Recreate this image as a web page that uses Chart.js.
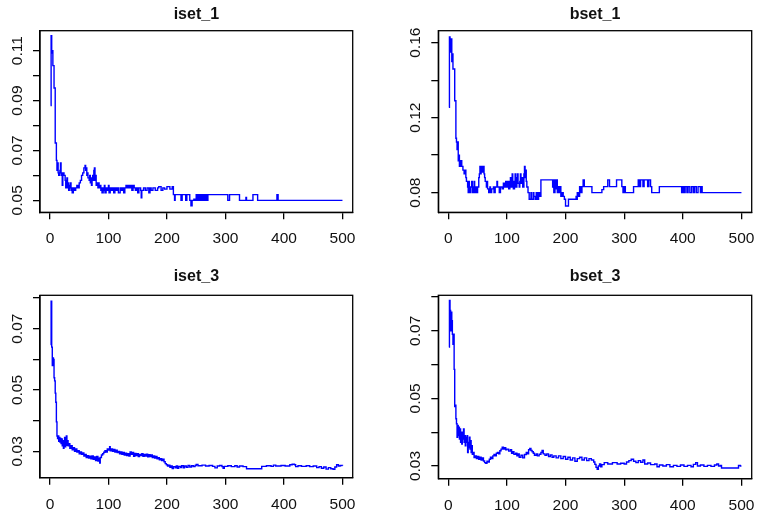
<!DOCTYPE html>
<html>
<head>
<meta charset="utf-8">
<script src="https://cdn.jsdelivr.net/npm/chart.js@4.4.1/dist/chart.umd.min.js"></script>
<style>
  html, body { margin: 0; padding: 0; background: #fff; }
  #wrap { position: relative; width: 768px; height: 525px; overflow: hidden; }
  canvas { position: absolute; }
</style>
</head>
<body>
<div id="wrap">
  <canvas id="p1" width="384" height="262" style="left:0;top:0"></canvas>
  <canvas id="p2" width="384" height="262" style="left:384px;top:0"></canvas>
  <canvas id="p3" width="384" height="263" style="left:0;top:262px"></canvas>
  <canvas id="p4" width="384" height="263" style="left:384px;top:262px"></canvas>
</div>
<script>
// =======================
// Data ([iteration, value])
// =======================
const iset1 = [[1,0.088],[2,0.116],[3,0.109],[4,0.110],[5,0.104],[7,0.095],[9,0.073],[11,0.066],[12,0.062],[13,0.065],
  [14,0.061],[15,0.060],[17,0.062],[18,0.065],[19,0.061],[20,0.060],[21,0.056],[22,0.061],[24,0.060],[26,0.058],
  [27,0.055],[28,0.057],[29,0.059],[30,0.055],[31,0.057],[32,0.054],[33,0.056],[34,0.055],[35,0.057],[36,0.054],
  [37,0.055],[38,0.053],[40,0.055],[42,0.054],[44,0.055],[46,0.056],[48,0.055],[50,0.057],[52,0.058],[54,0.060],
  [56,0.061],[58,0.063],[60,0.064],[61,0.062],[62,0.063],[63,0.060],[64,0.061],[65,0.059],[67,0.058],[68,0.060],
  [69,0.057],[70,0.059],[71,0.056],[72,0.058],[73,0.060],[74,0.058],[75,0.062],[76,0.063],[77,0.058],[78,0.060],
  [79,0.056],[80,0.057],[82,0.055],[83,0.057],[84,0.055],[86,0.056],[87,0.054],[88,0.055],[89,0.053],[91,0.055],
  [92,0.054],[93,0.056],[94,0.053],[96,0.055],[98,0.054],[100,0.056],[101,0.053],[103,0.055],[105,0.054],[107,0.055],
  [109,0.053],[111,0.055],[113,0.054],[115,0.055],[117,0.053],[120,0.055],[122,0.054],[124,0.055],[126,0.053],[128,0.055],
  [130,0.056],[132,0.055],[134,0.056],[136,0.055],[138,0.056],[140,0.054],[142,0.056],[144,0.055],[146,0.054],[148,0.055],
  [150,0.053],[152,0.055],[155,0.054],[156,0.051],[157,0.054],[160,0.055],[163,0.054],[166,0.055],[169,0.053],[171,0.055],
  [173,0.054],[176,0.055],[180,0.054],[184,0.055],[186,0.0555],[190,0.054],[193,0.055],[196,0.0545],[200,0.0555],[205,0.0545],
  [209,0.0555],[211,0.0523],[213,0.050],[214,0.0523],[224,0.050],[226,0.0523],[232,0.050],[234,0.0523],[239,0.050],[241,0.0478],
  [243,0.050],[246,0.0505],[248,0.050],[250,0.0523],[252,0.050],[254,0.0523],[256,0.050],[258,0.0523],[260,0.050],[262,0.0523],
  [264,0.050],[266,0.0523],[268,0.050],[270,0.0523],[304,0.050],[307,0.0523],[324,0.050],[335,0.0512],[336,0.050],[347,0.0523],
  [355,0.050],[388,0.0523],[390,0.050],[500,0.050]];

const bset1 = [[1,0.1255],[2,0.163],[3,0.161],[4,0.155],[5,0.162],[6,0.150],[7,0.154],[8,0.146],[10,0.146],[11,0.129],
  [13,0.109],[14,0.107],[15,0.103],[16,0.107],[17,0.097],[18,0.100],[19,0.094],[21,0.097],[23,0.094],[25,0.092],
  [27,0.090],[28,0.092],[30,0.088],[31,0.086],[33,0.083],[34,0.080],[35,0.086],[36,0.083],[37,0.080],[38,0.083],
  [40,0.086],[41,0.080],[43,0.083],[44,0.086],[45,0.080],[47,0.083],[48,0.080],[50,0.083],[52,0.088],[53,0.090],
  [54,0.094],[55,0.090],[56,0.094],[58,0.091],[59,0.094],[61,0.090],[62,0.088],[63,0.086],[65,0.083],[66,0.086],
  [67,0.082],[69,0.080],[71,0.083],[72,0.080],[74,0.082],[77,0.083],[78,0.080],[80,0.083],[83,0.086],[84,0.083],
  [87,0.080],[89,0.083],[92,0.082],[94,0.085],[96,0.083],[98,0.086],[100,0.083],[102,0.086],[103,0.082],[105,0.086],
  [106,0.088],[107,0.083],[109,0.090],[110,0.086],[111,0.082],[113,0.086],[114,0.090],[115,0.083],[117,0.088],[118,0.090],
  [119,0.085],[121,0.083],[122,0.086],[123,0.090],[124,0.085],[126,0.088],[127,0.083],[129,0.090],[130,0.094],[131,0.088],
  [132,0.092],[133,0.086],[134,0.083],[136,0.080],[138,0.0765],[141,0.080],[142,0.0765],[145,0.080],[146,0.078],[148,0.0765],
  [150,0.080],[152,0.0765],[154,0.080],[156,0.078],[158,0.0868],[178,0.083],[179,0.0868],[180,0.080],[182,0.0868],[183,0.082],
  [184,0.0868],[186,0.080],[187,0.0832],[189,0.080],[190,0.0832],[192,0.078],[194,0.080],[196,0.078],[198,0.0765],[200,0.0729],
  [205,0.0765],[218,0.078],[219,0.0765],[220,0.080],[222,0.078],[224,0.0832],[226,0.080],[228,0.0832],[230,0.0868],[232,0.0832],
  [245,0.080],[262,0.0816],[265,0.0832],[272,0.0868],[275,0.0832],[287,0.0868],[296,0.0832],[298,0.080],[300,0.0832],[302,0.080],
  [316,0.0832],[324,0.0868],[326,0.0832],[328,0.0868],[332,0.0832],[334,0.0868],[340,0.0832],[342,0.0868],[345,0.0832],[347,0.080],
  [360,0.0832],[398,0.080],[400,0.0832],[402,0.080],[404,0.0832],[407,0.080],[409,0.0832],[412,0.080],[415,0.0832],[418,0.080],
  [420,0.0832],[423,0.080],[426,0.0832],[430,0.080],[432,0.0832],[433,0.080],[500,0.080]];

const iset3 = [[1,0.0648],[2,0.079],[3,0.064],[4,0.058],[5,0.0605],[6,0.060],[7,0.054],[8,0.053],[9,0.049],[10,0.046],
  [11,0.0396],[12,0.035],[13,0.0342],[14,0.0350],[15,0.0333],[16,0.0345],[17,0.0330],[18,0.0342],[19,0.0325],[20,0.0340],
  [21,0.0318],[22,0.0335],[23,0.0310],[24,0.0330],[25,0.0345],[26,0.0315],[27,0.0330],[28,0.0350],[29,0.0320],[30,0.0335],
  [31,0.0318],[32,0.0325],[34,0.0310],[36,0.0318],[38,0.0305],[40,0.0312],[42,0.0300],[44,0.0308],[46,0.0298],[48,0.0302],
  [50,0.0292],[52,0.0298],[54,0.0290],[56,0.0295],[58,0.0285],[60,0.0290],[62,0.0280],[64,0.0286],[66,0.0278],[68,0.0284],
  [70,0.0276],[72,0.0285],[74,0.0274],[76,0.0282],[78,0.0270],[80,0.0283],[82,0.0268],[84,0.0278],[85,0.0262],[86,0.0280],
  [88,0.0288],[90,0.0292],[92,0.0297],[94,0.0302],[96,0.0298],[98,0.0308],[100,0.0304],[102,0.0315],[103,0.0302],[105,0.0308],
  [107,0.0300],[109,0.0306],[111,0.0298],[113,0.0304],[115,0.0296],[117,0.0300],[119,0.0292],[121,0.0298],[123,0.0290],[125,0.0296],
  [127,0.0288],[129,0.0294],[131,0.0286],[133,0.0292],[135,0.0285],[137,0.0298],[139,0.0290],[141,0.0296],[143,0.0284],[145,0.0293],
  [147,0.0286],[149,0.0292],[151,0.0283],[153,0.0290],[155,0.0286],[157,0.0292],[159,0.0284],[161,0.0290],[163,0.0285],[165,0.0291],
  [167,0.0282],[169,0.0289],[171,0.0283],[173,0.0288],[175,0.0280],[177,0.0285],[179,0.0278],[181,0.0283],[183,0.0276],[185,0.0279],
  [187,0.0272],[189,0.0276],[191,0.0270],[193,0.0274],[195,0.0266],[197,0.0260],[199,0.0256],[201,0.0252],[203,0.0255],[205,0.0248],
  [207,0.0252],[209,0.0244],[211,0.0250],[214,0.0246],[216,0.0252],[218,0.0245],[220,0.0251],[223,0.0247],[225,0.0253],[228,0.0246],
  [230,0.0252],[233,0.0248],[236,0.0254],[239,0.0249],[242,0.0253],[245,0.0250],[248,0.0254],[250,0.0257],[253,0.0253],[260,0.0255],
  [266,0.0252],[272,0.0254],[278,0.0251],[282,0.0246],[286,0.0252],[290,0.0254],[294,0.0250],[296,0.0245],[298,0.0251],[304,0.0253],
  [310,0.0250],[316,0.0253],[320,0.0249],[324,0.0252],[330,0.0250],[336,0.0243],[362,0.0251],[370,0.0253],[378,0.0251],[382,0.0255],
  [386,0.0252],[395,0.0254],[402,0.0252],[410,0.0256],[414,0.0258],[418,0.0256],[420,0.0250],[424,0.0253],[430,0.0251],[438,0.0253],
  [444,0.0250],[450,0.0252],[456,0.0247],[460,0.0250],[464,0.0245],[468,0.0249],[472,0.0242],[476,0.0247],[480,0.0243],[484,0.0241],
  [487,0.0249],[490,0.0256],[493,0.0252],[496,0.0254],[500,0.0253]];

const bset3 = [[1,0.0652],[2,0.079],[3,0.076],[4,0.070],[5,0.0755],[6,0.073],[7,0.069],[8,0.066],[9,0.069],[10,0.0586],
  [11,0.0476],[12,0.048],[13,0.044],[14,0.0425],[15,0.0385],[16,0.042],[17,0.039],[18,0.0415],[19,0.038],[20,0.041],
  [21,0.037],[22,0.040],[23,0.0365],[24,0.040],[25,0.038],[26,0.041],[27,0.037],[28,0.039],[29,0.036],[30,0.0385],
  [31,0.037],[32,0.039],[33,0.034],[34,0.037],[35,0.0355],[36,0.0385],[37,0.035],[38,0.0375],[39,0.034],[40,0.036],
  [41,0.0335],[42,0.034],[44,0.0325],[46,0.033],[48,0.0322],[50,0.0328],[52,0.0320],[54,0.0326],[56,0.0318],[58,0.0324],
  [60,0.0315],[62,0.0310],[64,0.0308],[66,0.0314],[68,0.0312],[70,0.0320],[72,0.0326],[74,0.0322],[76,0.0330],[78,0.0334],
  [80,0.0330],[82,0.0338],[84,0.0340],[86,0.0336],[88,0.0345],[90,0.0350],[92,0.0356],[94,0.0350],[96,0.0354],[98,0.0348],
  [100,0.0350],[103,0.0344],[106,0.0348],[108,0.0338],[110,0.0342],[112,0.0335],[115,0.0338],[117,0.0330],[119,0.0336],[121,0.0326],
  [124,0.0332],[127,0.0324],[130,0.0334],[133,0.0340],[135,0.0336],[137,0.0348],[139,0.0352],[141,0.0346],[143,0.0342],[145,0.0338],
  [147,0.0332],[150,0.0336],[152,0.0330],[155,0.0335],[158,0.0340],[160,0.0346],[162,0.0336],[165,0.0332],[168,0.0336],[171,0.0328],
  [174,0.0333],[177,0.0326],[180,0.0330],[184,0.0324],[188,0.0330],[192,0.0322],[196,0.0328],[200,0.0320],[204,0.0326],[208,0.0318],
  [212,0.0324],[216,0.0314],[220,0.0322],[224,0.0326],[228,0.0318],[232,0.0324],[236,0.0316],[240,0.0322],[244,0.0318],[248,0.0312],
  [250,0.0305],[252,0.0296],[254,0.0290],[256,0.0300],[258,0.0306],[260,0.0298],[262,0.0304],[266,0.0310],[272,0.0306],[280,0.0310],
  [288,0.0306],[294,0.0308],[300,0.0306],[304,0.0312],[308,0.0316],[312,0.0320],[316,0.0314],[320,0.0310],[324,0.0316],[328,0.0311],
  [332,0.0318],[335,0.0306],[340,0.0309],[345,0.0304],[352,0.0306],[356,0.0298],[360,0.0303],[366,0.0300],[372,0.0304],[378,0.0298],
  [384,0.0302],[390,0.0299],[396,0.0303],[402,0.0299],[408,0.0302],[414,0.0298],[418,0.0305],[422,0.0310],[425,0.0300],[430,0.0303],
  [436,0.0299],[442,0.0302],[448,0.0299],[454,0.0303],[458,0.0306],[461,0.0300],[464,0.0302],[466,0.0294],[495,0.0302],[498,0.0300],
  [500,0.0300]];

// =======================
// Ticks & labels
// =======================
const xTicks = [0, 100, 200, 300, 400, 500];
const xTickLabels = ["0", "100", "200", "300", "400", "500"];

const iset1Ticks = [0.05, 0.06, 0.07, 0.08, 0.09, 0.10, 0.11];
const iset1Labeled = [0.05, 0.07, 0.09, 0.11];
const iset1Labels = ["0.05", "0.07", "0.09", "0.11"];

const bset1Ticks = [0.08, 0.10, 0.12, 0.14, 0.16];
const bset1Labeled = [0.08, 0.12, 0.16];
const bset1Labels = ["0.08", "0.12", "0.16"];

const set3Ticks = [0.03, 0.04, 0.05, 0.06, 0.07, 0.08];
const set3Labeled = [0.03, 0.05, 0.07];
const set3Labels = ["0.03", "0.05", "0.07"];

const FONT = '"Liberation Sans", Arial, Helvetica, sans-serif';

// =======================
// R-style box, title and tick labels
// =======================
const rStylePlugin = {
  id: 'rStyle',
  afterDraw(chart, args, opts) {
    const { ctx, chartArea: a } = chart;
    const xs = chart.scales.x, ys = chart.scales.y;
    ctx.save();
    ctx.strokeStyle = '#000';
    ctx.lineWidth = 1.3;
    ctx.strokeRect(a.left, a.top, a.right - a.left, a.bottom - a.top);

    ctx.fillStyle = '#111';
    ctx.textAlign = 'center';
    ctx.textBaseline = 'alphabetic';
    ctx.font = 'bold 16px ' + FONT;
    ctx.fillText(opts.title, (a.left + a.right) / 2, 18.5);

    ctx.font = '15.5px ' + FONT;
    opts.xLabels.forEach((t, i) => {
      ctx.fillText(t, xs.getPixelForValue(opts.xValues[i]), a.bottom + 31);
    });
    opts.yLabels.forEach((t, i) => {
      ctx.save();
      ctx.translate(a.left - 18.3, ys.getPixelForValue(opts.yValues[i]));
      ctx.rotate(-Math.PI / 2);
      ctx.fillText(t, 0, 0);
      ctx.restore();
    });
    ctx.restore();
  }
};

function makePanel(id, title, series, yMin, yMax, yTicks, yLabeled, yLabels, box) {
  const canvas = document.getElementById(id);
  return new Chart(canvas.getContext('2d'), {
    type: 'line',
    data: {
      datasets: [{
        data: series.map(p => ({ x: p[0], y: p[1] })),
        borderColor: '#0000ff',
        borderWidth: 1.4,
        pointRadius: 0,
        stepped: true,
        fill: false
      }]
    },
    options: {
      responsive: false,
      animation: false,
      events: [],
      layout: { padding: { left: 0, top: box.top, right: canvas.width - box.right, bottom: 0 } },
      scales: {
        x: {
          type: 'linear',
          min: -17,
          max: 517.5,
          afterBuildTicks: s => { s.ticks = xTicks.map(v => ({ value: v })); },
          afterFit: s => { s.height = canvas.height - box.bottom; },
          ticks: { display: false },
          grid: { drawOnChartArea: false, drawTicks: true, tickLength: 7, color: '#000', lineWidth: 1.3 },
          border: { display: true, color: '#000', width: 1.3 }
        },
        y: {
          type: 'linear',
          min: yMin,
          max: yMax,
          afterBuildTicks: s => { s.ticks = yTicks.map(v => ({ value: v })); },
          afterFit: s => { s.width = box.left; },
          ticks: { display: false },
          grid: { drawOnChartArea: false, drawTicks: true, tickLength: 7, color: '#000', lineWidth: 1.3 },
          border: { display: true, color: '#000', width: 1.3 }
        }
      },
      plugins: {
        legend: { display: false },
        tooltip: { enabled: false },
        rStyle: { title: title, xValues: xTicks, xLabels: xTickLabels, yValues: yLabeled, yLabels: yLabels }
      }
    },
    plugins: [rStylePlugin]
  });
}

makePanel('p1', 'iset_1', iset1, 0.0452, 0.1180, iset1Ticks, iset1Labeled, iset1Labels,
  { left: 40, top: 30.7, right: 352.7, bottom: 212.3 });
makePanel('p2', 'bset_1', bset1, 0.0695, 0.1664, bset1Ticks, bset1Labeled, bset1Labels,
  { left: 54.3, top: 30.7, right: 367.7, bottom: 212.3 });
makePanel('p3', 'iset_3', iset3, 0.0214, 0.0809, set3Ticks, set3Labeled, set3Labels,
  { left: 40, top: 33.3, right: 352.7, bottom: 215.7 });
makePanel('p4', 'bset_3', bset3, 0.02625, 0.0805, set3Ticks, set3Labeled, set3Labels,
  { left: 54.3, top: 33.3, right: 367.7, bottom: 216.7 });
</script>
</body>
</html>
